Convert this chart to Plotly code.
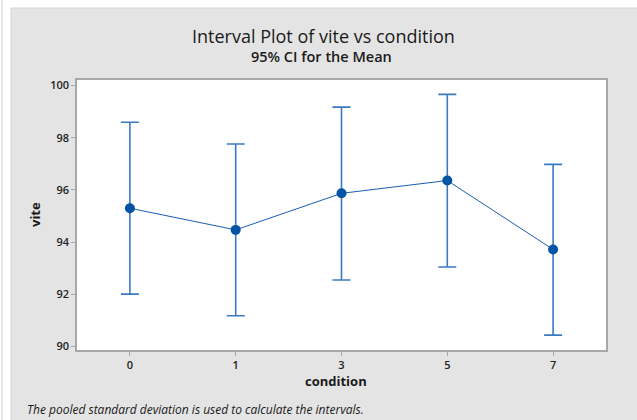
import plotly.graph_objects as go

conditions = ["0", "1", "3", "5", "7"]
means = [95.30, 94.47, 95.87, 96.36, 93.72]
lower = [92.01, 91.18, 92.55, 93.05, 90.44]
upper = [98.59, 97.76, 99.17, 99.66, 96.98]
y_ticks = [90, 92, 94, 96, 98, 100]

W, H = 637, 420
L, R, T, B = 77, 606, 80, 350  # plot area in pixels

def px(p):
    return (p - L) / (R - L)

def py(p):
    return (B - p) / (B - T)

fig = go.Figure()
fig.add_trace(go.Scatter(
    x=conditions, y=means,
    mode="lines+markers",
    line=dict(color="#1a5fb4", width=1),
    marker=dict(color="#0054a6", size=10),
    error_y=dict(
        type="data", symmetric=False,
        array=[u - m for u, m in zip(upper, means)],
        arrayminus=[m - l for m, l in zip(means, lower)],
        color="#3b79c3", thickness=1.6, width=9,
    ),
    showlegend=False,
    hoverinfo="skip",
))

font_family = "Open Sans, Noto Sans, DejaVu Sans, sans-serif"
GRAY = "#e4e4e4"

def gray_rect(x0, x1, y0, y1):
    return dict(type="rect", xref="paper", yref="paper", layer="below",
                x0=px(x0), x1=px(x1), y0=py(y1), y1=py(y0),
                fillcolor=GRAY, line=dict(width=0))

fig.update_layout(
    width=W, height=H,
    margin=dict(l=L, r=W - R, t=T, b=H - B, pad=0),
    paper_bgcolor="#ffffff",
    plot_bgcolor="#ffffff",
    font=dict(family=font_family, color="#222222"),
    xaxis=dict(
        type="category", range=[-0.5, 4.5],
        showgrid=False, zeroline=False,
        showline=True, linecolor="#a8a8a8", linewidth=1.5, mirror=True,
        ticks="outside", ticklen=4, tickcolor="#a8a8a8",
        tickfont=dict(size=11, color="#222222", weight=600),
    ),
    yaxis=dict(
        range=[89.87, 100.21],
        tickvals=y_ticks,
        showgrid=False, zeroline=False,
        showline=True, linecolor="#a8a8a8", linewidth=1.5, mirror=True,
        ticks="outside", ticklen=4, tickcolor="#a8a8a8",
        tickfont=dict(size=11, color="#222222", weight=600),
    ),
    shapes=[
        gray_rect(11, W + 5, 8, T),
        gray_rect(11, W + 5, B, H + 5),
        gray_rect(11, L, T, B),
        gray_rect(R, W + 5, T, B),
        dict(type="line", xref="paper", yref="paper", layer="below",
             x0=px(11), x1=px(11), y0=py(H + 5), y1=py(8),
             line=dict(color="#d4d4d4", width=1)),
        dict(type="line", xref="paper", yref="paper", layer="below",
             x0=px(11), x1=px(W + 5), y0=py(8), y1=py(8),
             line=dict(color="#d4d4d4", width=1)),
        dict(type="line", xref="paper", yref="paper", layer="below",
             x0=px(2), x1=px(2), y0=py(H + 5), y1=py(0),
             line=dict(color="#d0d0d0", width=1)),
    ],
    annotations=[
        dict(text="Interval Plot of vite vs condition", xref="paper", yref="paper",
             x=px(323), y=py(36), xanchor="center", yanchor="middle", showarrow=False,
             font=dict(size=18, color="#1a1a1a")),
        dict(text="95% CI for the Mean", xref="paper", yref="paper",
             x=px(321), y=py(57), xanchor="center", yanchor="middle", showarrow=False,
             font=dict(size=14.5, color="#1a1a1a", weight=600)),
        dict(text="<b>condition</b>", xref="paper", yref="paper",
             x=px(336), y=py(381), xanchor="center", yanchor="middle", showarrow=False,
             font=dict(size=13, color="#1a1a1a")),
        dict(text="<b>vite</b>", xref="paper", yref="paper", textangle=-90,
             x=px(35), y=py(215), xanchor="center", yanchor="middle", showarrow=False,
             font=dict(size=13, color="#1a1a1a")),
        dict(text="<i>The pooled standard deviation is used to calculate the intervals.</i>",
             xref="paper", yref="paper",
             x=px(25), y=py(409), xanchor="left", yanchor="middle", showarrow=False,
             font=dict(size=12, color="#1a1a1a")),
    ],
)

fig.write_html(
    "out.html",
    config={"displayModeBar": False},
    post_script="document.body.style.margin='0';document.body.style.overflow='hidden';",
)
